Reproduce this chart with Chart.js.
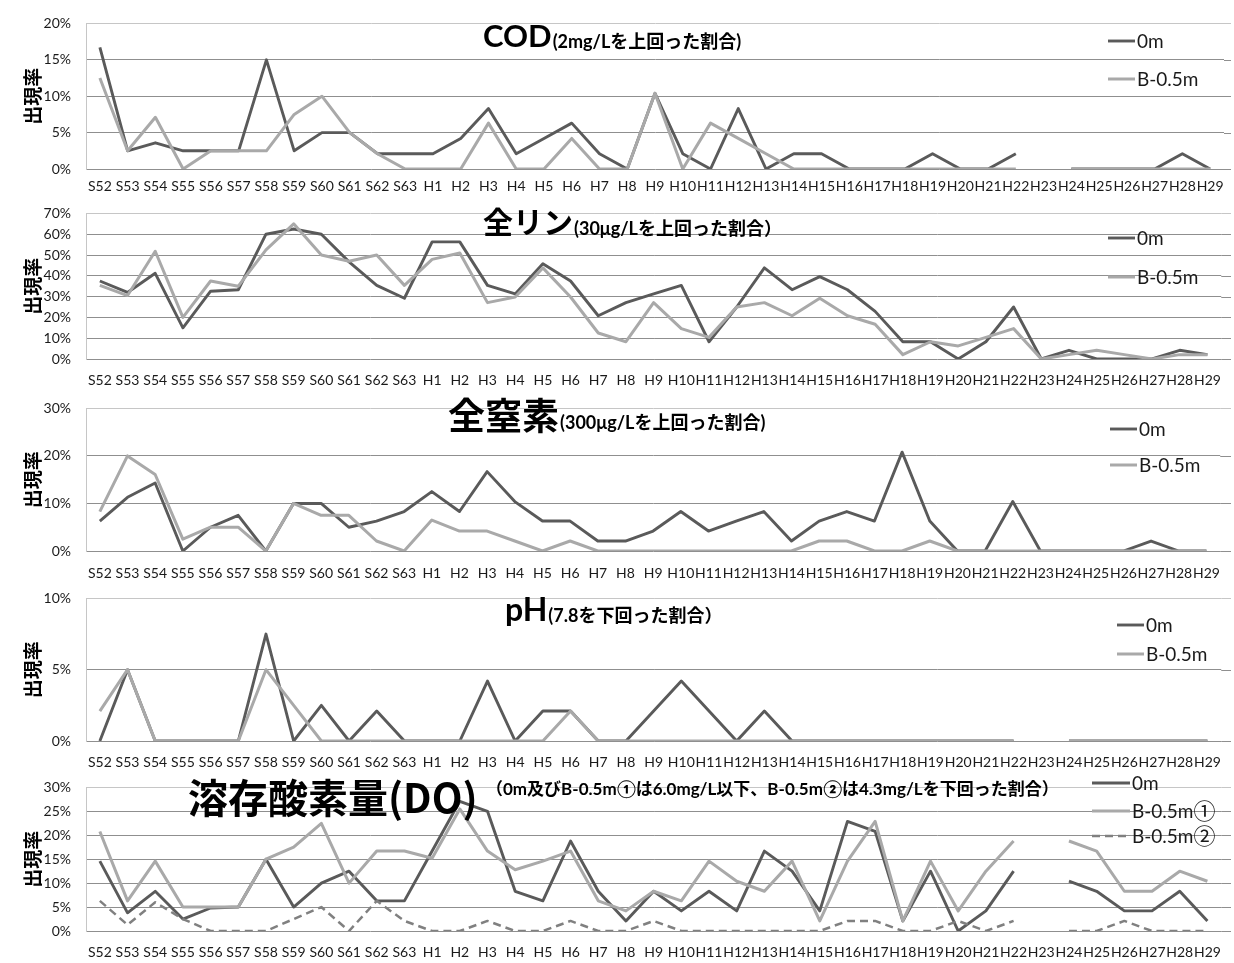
<!DOCTYPE html>
<html lang="ja">
<head>
<meta charset="utf-8">
<title>出現率の経年変化</title>
<script src="https://cdn.jsdelivr.net/npm/chart.js@4.4.1/dist/chart.umd.min.js"></script>
<style>
  html, body { margin: 0; padding: 0; background: #ffffff; }
  #wrap { position: relative; width: 1234px; height: 963px; overflow: hidden; }
  #wrap canvas { position: absolute; left: 0; }
</style>
</head>
<body>
<div id="wrap">
  <canvas id="pCOD"></canvas>
  <canvas id="pTP"></canvas>
  <canvas id="pTN"></canvas>
  <canvas id="pPH"></canvas>
  <canvas id="pDO"></canvas>
</div>
<script>
// 年度（昭和52年〜平成29年）
const years = ['S52','S53','S54','S55','S56','S57','S58','S59','S60','S61','S62','S63',
  'H1','H2','H3','H4','H5','H6','H7','H8','H9','H10','H11','H12','H13','H14','H15',
  'H16','H17','H18','H19','H20','H21','H22','H23','H24','H25','H26','H27','H28','H29'];

// COD (2mg/L を上回った割合, %)
const codSurface = [16.7, 2.5, 3.6, 2.5, 2.5, 2.5, 15.0, 2.5, 5.0, 5.0, 2.1, 2.1,
  2.1, 4.2, 8.3, 2.1, 4.2, 6.3, 2.1, 0, 10.4, 2.1, 0, 8.3, 0, 2.1, 2.1,
  0, 0, 0, 2.1, 0, 0, 2.1, null, 0, 0, 0, 0, 2.1, 0];
const codBottom = [12.5, 2.5, 7.1, 0, 2.5, 2.5, 2.5, 7.5, 10.0, 5.0, 2.1, 0,
  0, 0, 6.3, 0, 0, 4.2, 0, 0, 10.4, 0, 6.3, 4.2, 2.1, 0, 0,
  0, 0, 0, 0, 0, 0, 0, null, 0, 0, 0, 0, 0, 0];

// 全リン (30μg/L を上回った割合, %)
const tpSurface = [37.5, 32.0, 41.2, 15.0, 32.6, 33.3, 60.0, 62.5, 60.0, 46.7, 35.4, 29.2,
  56.3, 56.3, 35.4, 31.3, 45.8, 37.5, 20.8, 27.1, 31.3, 35.4, 8.3, 25.0, 43.8, 33.3, 39.6,
  33.3, 22.9, 8.3, 8.3, 0, 8.3, 25.0, 0, 4.2, 0, 0, 0, 4.2, 2.1];
const tpBottom = [35.4, 30.5, 51.8, 20.0, 37.5, 35.0, 52.5, 65.0, 50.0, 47.0, 50.0, 35.4,
  47.9, 51.0, 27.1, 29.8, 43.8, 29.8, 12.5, 8.3, 27.1, 14.6, 10.4, 25.0, 27.1, 20.8, 29.2,
  20.8, 16.7, 2.1, 8.3, 6.3, 10.4, 14.6, 0, 2.1, 4.2, 2.1, 0, 2.1, 2.1];

// 全窒素 (300μg/L を上回った割合, %)
const tnSurface = [6.3, 11.3, 14.3, 0, 5.0, 7.5, 0, 10.0, 10.0, 5.0, 6.3, 8.3,
  12.5, 8.3, 16.7, 10.4, 6.3, 6.3, 2.1, 2.1, 4.2, 8.3, 4.2, 6.3, 8.3, 2.1, 6.3,
  8.3, 6.3, 20.8, 6.3, 0, 0, 10.4, 0, 0, 0, 0, 2.1, 0, 0];
const tnBottom = [8.3, 20.0, 16.1, 2.5, 5.0, 5.0, 0, 10.0, 7.5, 7.5, 2.1, 0,
  6.5, 4.2, 4.2, 2.1, 0, 2.1, 0, 0, 0, 0, 0, 0, 0, 0, 2.1,
  2.1, 0, 0, 2.1, 0, 0, 0, 0, 0, 0, 0, 0, 0, 0];

// pH (7.8 を下回った割合, %)
const phSurface = [0, 5.0, 0, 0, 0, 0, 7.5, 0, 2.5, 0, 2.1, 0,
  0, 0, 4.2, 0, 2.1, 2.1, 0, 0, 2.1, 4.2, 2.1, 0, 2.1, 0, 0,
  0, 0, 0, 0, 0, 0, 0, null, 0, 0, 0, 0, 0, 0];
const phBottom = [2.1, 5.0, 0, 0, 0, 0, 5.0, 2.5, 0, 0, 0, 0,
  0, 0, 0, 0, 0, 2.1, 0, 0, 0, 0, 0, 0, 0, 0, 0,
  0, 0, 0, 0, 0, 0, 0, null, 0, 0, 0, 0, 0, 0];

// 溶存酸素量 DO (%)
const doSurface = [14.6, 3.8, 8.3, 2.5, 4.8, 5.0, 15.0, 5.0, 10.0, 12.5, 6.3, 6.3,
  16.7, 27.1, 25.0, 8.3, 6.3, 18.8, 8.3, 2.1, 8.3, 4.2, 8.3, 4.2, 16.7, 12.5, 4.2,
  22.9, 20.8, 2.1, 12.5, 0, 4.2, 12.5, null, 10.4, 8.3, 4.2, 4.2, 8.3, 2.1];
const doBottom1 = [20.8, 6.3, 14.6, 5.0, 5.0, 5.0, 15.0, 17.5, 22.5, 10.0, 16.7, 16.7,
  15.2, 25.5, 16.7, 12.8, 14.6, 16.7, 6.3, 4.2, 8.3, 6.3, 14.6, 10.4, 8.3, 14.6, 2.1,
  14.6, 22.9, 2.1, 14.6, 4.2, 12.5, 18.8, null, 18.8, 16.7, 8.3, 8.3, 12.5, 10.4];
const doBottom2 = [6.3, 1.3, 6.0, 2.5, 0, 0, 0, 2.5, 5.0, 0, 6.3, 2.1,
  0, 0, 2.1, 0, 0, 2.1, 0, 0, 2.1, 0, 0, 0, 0, 0, 0,
  2.1, 2.1, 0, 0, 2.1, 0, 2.1, null, 0, 0, 2.1, 0, 0, 0];

// ---- styling ----
const DARK = '#5a5a5a';
const LIGHT = '#a9a9a9';
const MID = '#808080';
const GRID = '#8f8f8f';
const GRID_TOP = '#c6c6c6';
const LATIN = 'Lato, "Noto Sans CJK JP", sans-serif';
const CJK = '"Noto Sans CJK JP", Lato, sans-serif';
const AREA_LEFT = 86;
const AREA_RIGHT = 1224;
const GRID_END = 1231;

function surfaceLine(data) {
  return { label: '0m', data, borderColor: DARK, borderWidth: 2.9, order: 2 };
}
function bottomLine(label, data) {
  return { label, data, borderColor: LIGHT, borderWidth: 3, order: 1 };
}
function dashedLine(label, data) {
  return { label, data, borderColor: MID, borderWidth: 2.5, borderDash: [8, 5], order: 0 };
}

// legend text: circled digits are set a little larger than the Latin part
function drawLegendText(ctx, text, x, y) {
  let cx = x;
  for (const ch of text) {
    const circled = ch === '①' || ch === '②';
    ctx.font = circled ? '22px ' + CJK : '19px ' + LATIN;
    ctx.fillText(ch, cx, y + (circled ? 0 : 1));
    cx += ctx.measureText(ch).width;
  }
}

// titles, axis caption, in-plot legend and gridline run-out
const panelDecor = {
  id: 'panelDecor',
  beforeDatasetsDraw(chart, args, o) {
    const { ctx, chartArea } = chart;
    const ys = chart.scales.y;
    ctx.save();
    ctx.lineWidth = 1;
    ys.ticks.forEach((t) => {
      const py = Math.round(ys.getPixelForValue(t.value)) + 0.5;
      ctx.strokeStyle = t.value === ys.max ? GRID_TOP : GRID;
      ctx.beginPath();
      ctx.moveTo(chartArea.right, py);
      ctx.lineTo(GRID_END, py);
      ctx.stroke();
    });
    ctx.restore();
  },
  afterDraw(chart, args, o) {
    const { ctx, chartArea } = chart;
    const off = o.top;

    ctx.save();
    ctx.translate(33, (chartArea.top + chartArea.bottom) / 2);
    ctx.rotate(-Math.PI / 2);
    ctx.font = 'bold 19px ' + CJK;
    ctx.fillStyle = '#000';
    ctx.textAlign = 'center';
    ctx.textBaseline = 'middle';
    ctx.fillText('出現率', 0, 0);
    ctx.restore();

    ctx.save();
    ctx.fillStyle = '#000';
    ctx.textAlign = 'left';
    ctx.textBaseline = 'middle';
    ctx.font = o.titleFont;
    ctx.fillText(o.title, o.titleX, o.titleY - off);
    const tw = ctx.measureText(o.title).width;
    ctx.font = o.subFont;
    const sx = o.subX != null ? o.subX : o.titleX + tw + 1;
    ctx.fillText(o.sub, sx, o.subY - off);
    ctx.restore();

    ctx.save();
    ctx.textAlign = 'left';
    ctx.textBaseline = 'middle';
    chart.data.datasets.forEach((ds, i) => {
      const y = o.legendY[i] - off;
      ctx.strokeStyle = ds.borderColor;
      ctx.lineWidth = ds.borderWidth;
      ctx.setLineDash(ds.borderDash || []);
      ctx.beginPath();
      ctx.moveTo(o.legendX, y);
      ctx.lineTo(o.legendX + o.legendLen, y);
      ctx.stroke();
      ctx.setLineDash([]);
      ctx.fillStyle = '#1a1a1a';
      drawLegendText(ctx, ds.label, o.legendX + o.legendLen + 2, y);
    });
    ctx.restore();
  }
};

const panels = [
  { id: 'pCOD', top: 0, height: 195, areaTop: 14, areaBottom: 169, tickPad: 9, max: 20, step: 5,
    datasets: [surfaceLine(codSurface), bottomLine('B-0.5m', codBottom)],
    decor: { title: 'COD', titleFont: 'bold 31px ' + LATIN, titleX: 483, titleY: 37,
      sub: '(2mg/Lを上回った割合)', subFont: 'bold 18px ' + LATIN, subY: 42,
      legendX: 1108, legendLen: 27, legendY: [41, 79] } },
  { id: 'pTP', top: 190, height: 200, areaTop: 203, areaBottom: 359, tickPad: 13, max: 70, step: 10,
    datasets: [surfaceLine(tpSurface), bottomLine('B-0.5m', tpBottom)],
    decor: { title: '全リン', titleFont: 'bold 30px ' + CJK, titleX: 483, titleY: 222,
      sub: '(30μg/Lを上回った割合）', subFont: 'bold 18px ' + LATIN, subY: 229,
      legendX: 1108, legendLen: 27, legendY: [238, 277] } },
  { id: 'pTN', top: 385, height: 198, areaTop: 397, areaBottom: 551, tickPad: 14, max: 30, step: 10,
    datasets: [surfaceLine(tnSurface), bottomLine('B-0.5m', tnBottom)],
    decor: { title: '全窒素', titleFont: 'bold 37px ' + CJK, titleX: 448, titleY: 416,
      sub: '(300μg/Lを上回った割合)', subFont: 'bold 18px ' + LATIN, subY: 423,
      legendX: 1110, legendLen: 27, legendY: [429, 465] } },
  { id: 'pPH', top: 575, height: 197, areaTop: 587, areaBottom: 741, tickPad: 13, max: 10, step: 5,
    datasets: [surfaceLine(phSurface), bottomLine('B-0.5m', phBottom)],
    decor: { title: 'pH', titleFont: 'bold 32px ' + LATIN, titleX: 505, titleY: 611,
      sub: '(7.8を下回った割合）', subFont: 'bold 18px ' + LATIN, subY: 616,
      legendX: 1117, legendLen: 27, legendY: [625, 654] } },
  { id: 'pDO', top: 764, height: 199, areaTop: 776, areaBottom: 931, tickPad: 13, max: 30, step: 5,
    datasets: [surfaceLine(doSurface), bottomLine('B-0.5m①', doBottom1), dashedLine('B-0.5m②', doBottom2)],
    decor: { title: '溶存酸素量(DO)', titleFont: 'bold 40px ' + CJK, titleX: 188, titleY: 798,
      sub: '（0m及びB-0.5m①は6.0mg/L以下、B-0.5m②は4.3mg/Lを下回った割合）', subFont: 'bold 17px ' + LATIN,
      subX: 486, subY: 790,
      legendX: 1092, legendLen: 38, legendY: [783, 811, 836] } }
];

panels.forEach((p) => {
  const canvas = document.getElementById(p.id);
  canvas.width = 1234;
  canvas.height = p.height;
  canvas.style.top = p.top + 'px';
  canvas.style.width = '1234px';
  canvas.style.height = p.height + 'px';

  new Chart(canvas, {
    type: 'line',
    data: {
      labels: years,
      datasets: p.datasets.map((d) => Object.assign({
        pointRadius: 0, pointHoverRadius: 0, tension: 0, spanGaps: false,
        fill: false, borderJoinStyle: 'round'
      }, d))
    },
    options: {
      responsive: false,
      animation: false,
      devicePixelRatio: 1,
      events: [],
      layout: { padding: { top: p.areaTop - p.top, right: 1234 - AREA_RIGHT, left: 0, bottom: 0 } },
      plugins: {
        legend: { display: false },
        tooltip: { enabled: false },
        panelDecor: Object.assign({ top: p.top }, p.decor)
      },
      scales: {
        x: {
          offset: true,
          grid: { display: false, drawTicks: false },
          border: { display: false },
          ticks: {
            autoSkip: false, maxRotation: 0, minRotation: 0, padding: p.tickPad,
            color: '#1a1a1a', font: { family: LATIN, size: 14 }
          },
          afterFit(s) { s.height = p.top + p.height - p.areaBottom; }
        },
        y: {
          min: 0, max: p.max,
          ticks: {
            stepSize: p.step, padding: 15, color: '#1a1a1a',
            font: { family: LATIN, size: 14 },
            callback: (v) => v + '%'
          },
          grid: {
            drawTicks: false, lineWidth: 1,
            color: (c) => (c.tick && c.tick.value === p.max ? GRID_TOP : GRID)
          },
          border: { display: true, color: GRID_TOP, width: 1 },
          afterFit(s) { s.width = AREA_LEFT; }
        }
      }
    },
    plugins: [panelDecor]
  });
});
</script>
</body>
</html>
